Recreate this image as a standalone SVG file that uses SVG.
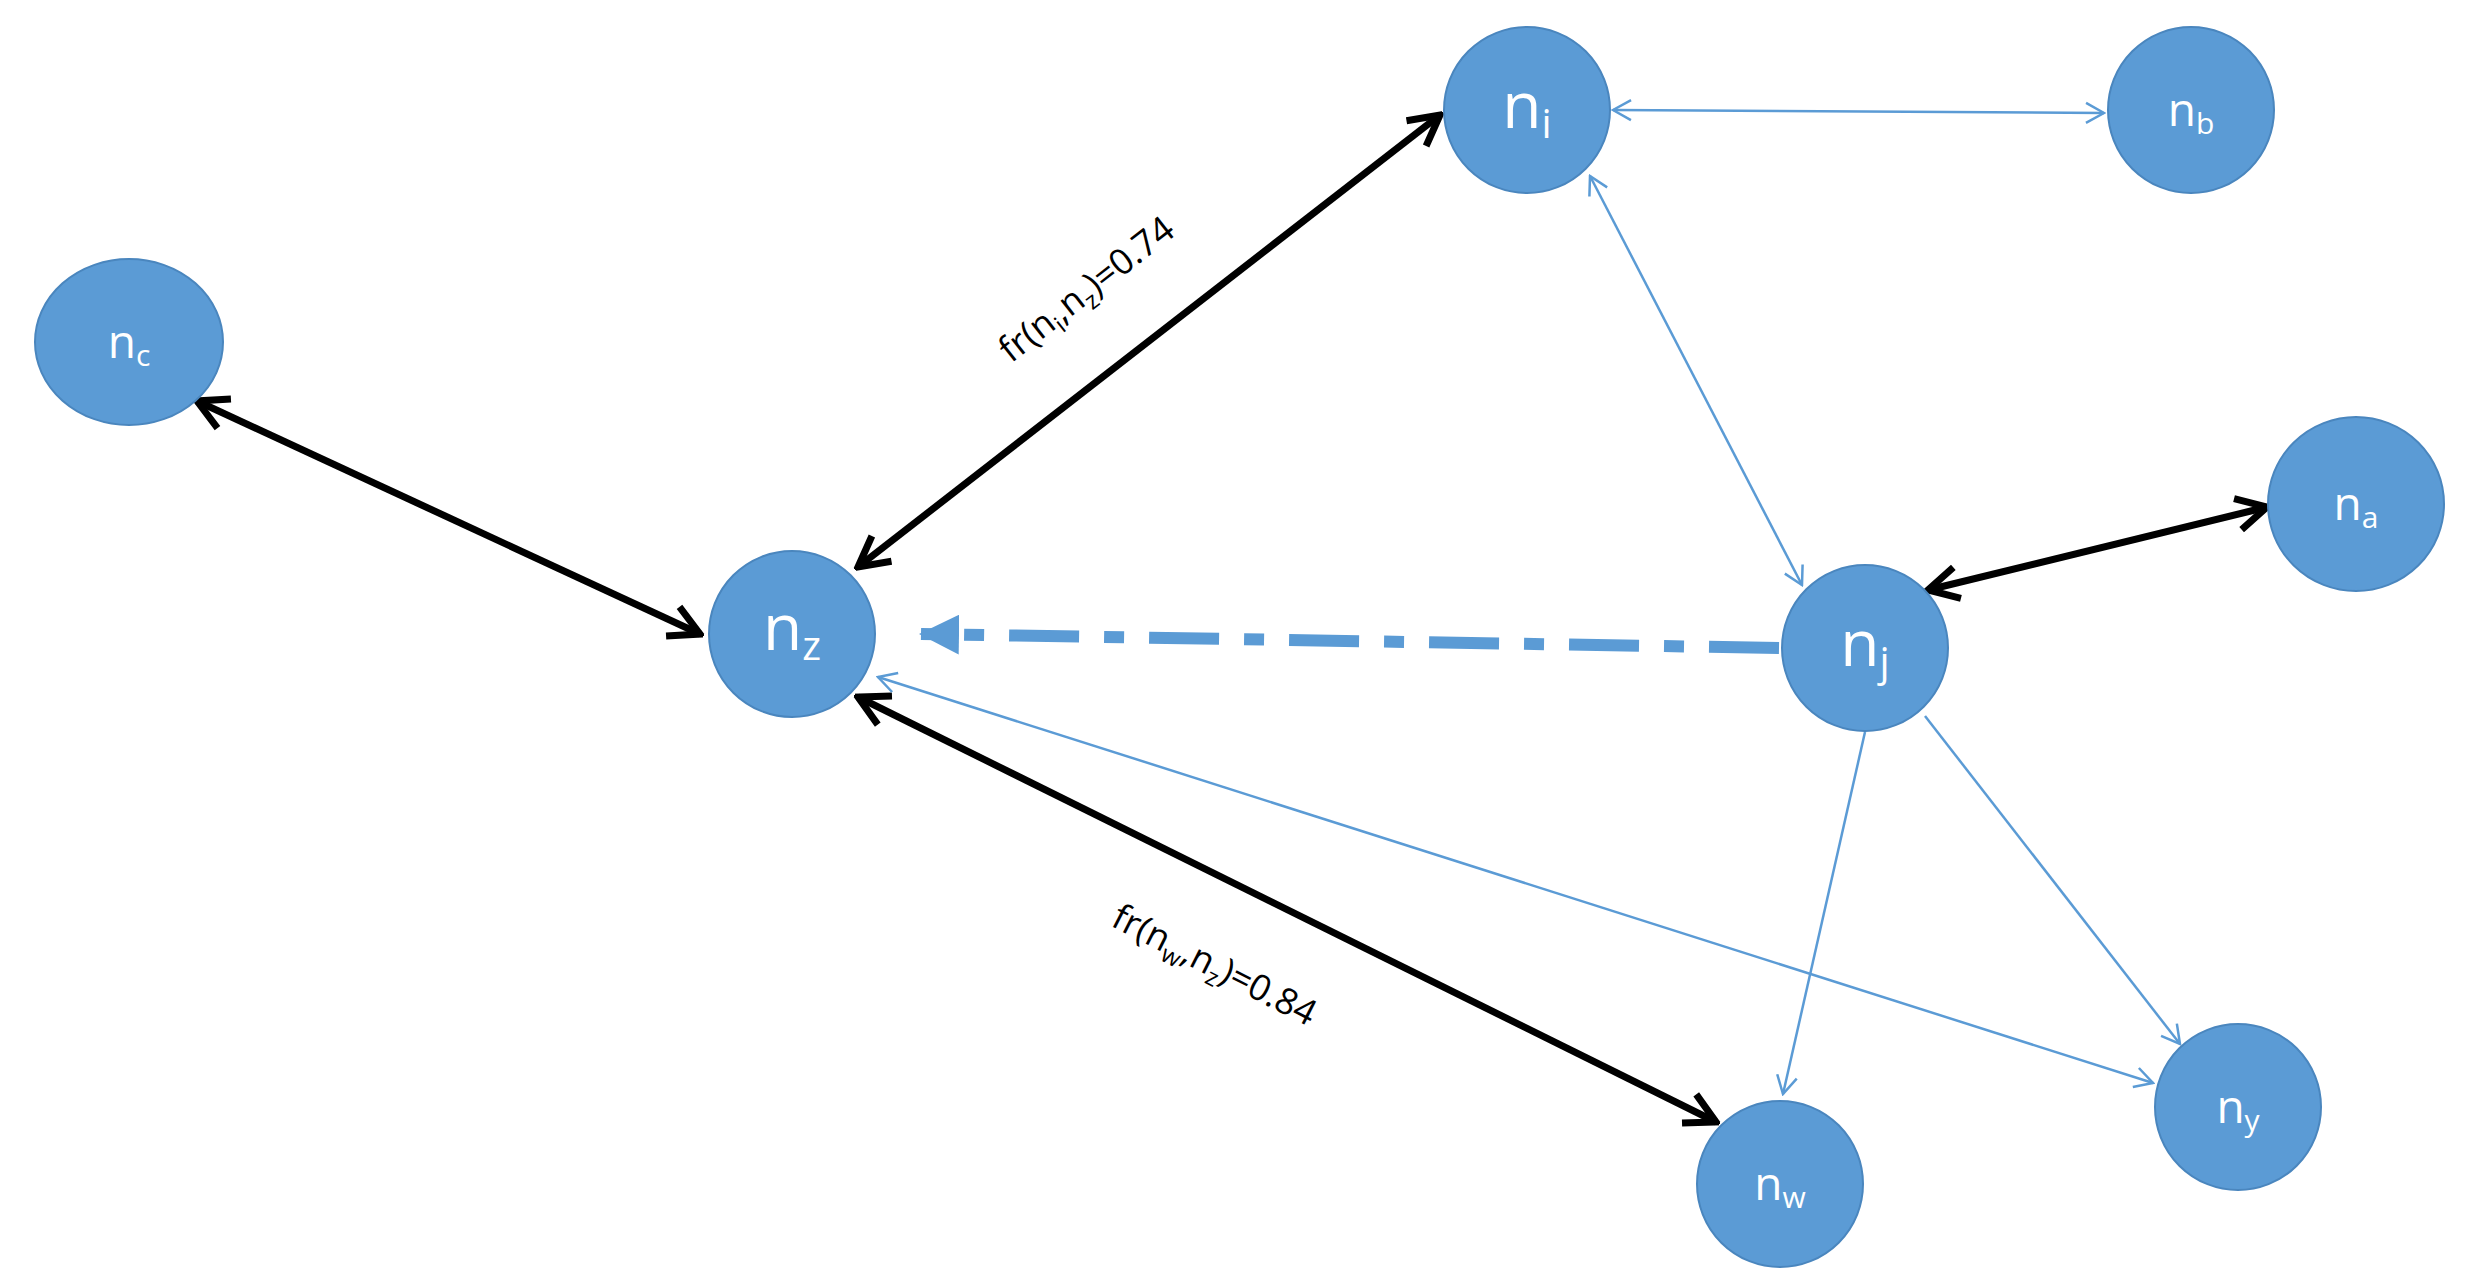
<svg xmlns="http://www.w3.org/2000/svg" width="2468" height="1286" viewBox="0 0 2468 1286">
<style>
.node{fill:#5B9BD5;stroke:#4A86BE;stroke-width:2}
.lbl{fill:#fff;font-family:"Open Sans","DejaVu Sans",sans-serif;text-anchor:middle}
.big{font-size:64px}.sm{font-size:46px}
.blk{stroke:#000;stroke-width:7;fill:none}
.thin{stroke:#5B9BD5;stroke-width:2.5;fill:none}
.edge{font-family:"Open Sans","DejaVu Sans",sans-serif;font-size:36px;fill:#000;text-anchor:middle}
</style>
<defs>
<marker id="ab" viewBox="0 0 10 10" refX="9" refY="5" markerWidth="7" markerHeight="7" markerUnits="userSpaceOnUse" orient="auto-start-reverse" style="overflow:visible">
<path d="M1,0 L9,5 L1,10" fill="none" stroke="#000" stroke-width="1.6" transform="scale(1)"/>
</marker>
<marker id="abk" viewBox="0 0 40 40" refX="36" refY="20" markerWidth="40" markerHeight="40" markerUnits="userSpaceOnUse" orient="auto-start-reverse">
<path d="M6,4 L36,20 L6,36" fill="none" stroke="#000" stroke-width="7"/>
</marker>
<marker id="abl" viewBox="0 0 24 24" refX="22" refY="12" markerWidth="24" markerHeight="24" markerUnits="userSpaceOnUse" orient="auto-start-reverse">
<path d="M4,2 L22,12 L4,22" fill="none" stroke="#5B9BD5" stroke-width="2.5"/>
</marker>
<marker id="tri" viewBox="0 0 40 40" refX="38" refY="20" markerWidth="40" markerHeight="40" markerUnits="userSpaceOnUse" orient="auto">
<path d="M0,0 L40,20 L0,40 Z" fill="#5B9BD5"/>
</marker>
</defs>
<g id="connectors">
<line class="blk" x1="858" y1="567" x2="1440" y2="115" marker-start="url(#abk)" marker-end="url(#abk)"/>
<line class="blk" x1="197" y1="401" x2="700" y2="634" marker-start="url(#abk)" marker-end="url(#abk)"/>
<line class="blk" x1="858" y1="697" x2="1716" y2="1122" marker-start="url(#abk)" marker-end="url(#abk)"/>
<line class="blk" x1="1928" y1="590" x2="2267" y2="507" marker-start="url(#abk)" marker-end="url(#abk)"/>
<line class="thin" x1="1613" y1="110" x2="2104" y2="113" marker-start="url(#abl)" marker-end="url(#abl)"/>
<line class="thin" x1="1590" y1="176" x2="1802" y2="585" marker-start="url(#abl)" marker-end="url(#abl)"/>
<line class="thin" x1="1865" y1="732" x2="1783" y2="1094" marker-end="url(#abl)"/>
<line class="thin" x1="1925" y1="716" x2="2180" y2="1044" marker-end="url(#abl)"/>
<line class="thin" x1="878" y1="677" x2="2153" y2="1083" marker-start="url(#abl)" marker-end="url(#abl)"/>
<line x1="1779" y1="648" x2="921" y2="634" stroke="#5B9BD5" stroke-width="12" stroke-dasharray="70,25,20,25" marker-end="url(#tri)"/>
<text class="edge" transform="translate(1094,299) rotate(-38)">fr(n<tspan font-size="24" dy="8">i</tspan><tspan dy="-8">,n</tspan><tspan font-size="24" dy="8">z</tspan><tspan dy="-8">)=0.74</tspan></text>
<text class="edge" transform="translate(1209,976) rotate(27)">fr(n<tspan font-size="24" dy="8">w</tspan><tspan dy="-8">,n</tspan><tspan font-size="24" dy="8">z</tspan><tspan dy="-8">)=0.84</tspan></text>
</g>
<g id="ni"><ellipse class="node" cx="1527" cy="110" rx="83" ry="83"/><text class="lbl big" x="1527" y="128">n<tspan font-size="40" dy="10">i</tspan></text></g>
<g id="nb"><ellipse class="node" cx="2191" cy="110" rx="83" ry="83"/><text class="lbl sm" x="2191" y="126">n<tspan font-size="30" dy="8">b</tspan></text></g>
<g id="nc"><ellipse class="node" cx="129" cy="342" rx="94" ry="83"/><text class="lbl sm" x="129" y="358">n<tspan font-size="30" dy="8">c</tspan></text></g>
<g id="nz"><ellipse class="node" cx="792" cy="634" rx="83" ry="83"/><text class="lbl big" x="792" y="650">n<tspan font-size="40" dy="10">z</tspan></text></g>
<g id="nj"><ellipse class="node" cx="1865" cy="648" rx="83" ry="83"/><text class="lbl big" x="1865" y="666">n<tspan font-size="40" dy="10">j</tspan></text></g>
<g id="na"><ellipse class="node" cx="2356" cy="504" rx="88" ry="87"/><text class="lbl sm" x="2356" y="520">n<tspan font-size="30" dy="8">a</tspan></text></g>
<g id="ny"><ellipse class="node" cx="2238" cy="1107" rx="83" ry="83"/><text class="lbl sm" x="2238" y="1123">n<tspan font-size="30" dy="8">y</tspan></text></g>
<g id="nw"><ellipse class="node" cx="1780" cy="1184" rx="83" ry="83"/><text class="lbl sm" x="1780" y="1200">n<tspan font-size="30" dy="8">w</tspan></text></g>
</svg>
